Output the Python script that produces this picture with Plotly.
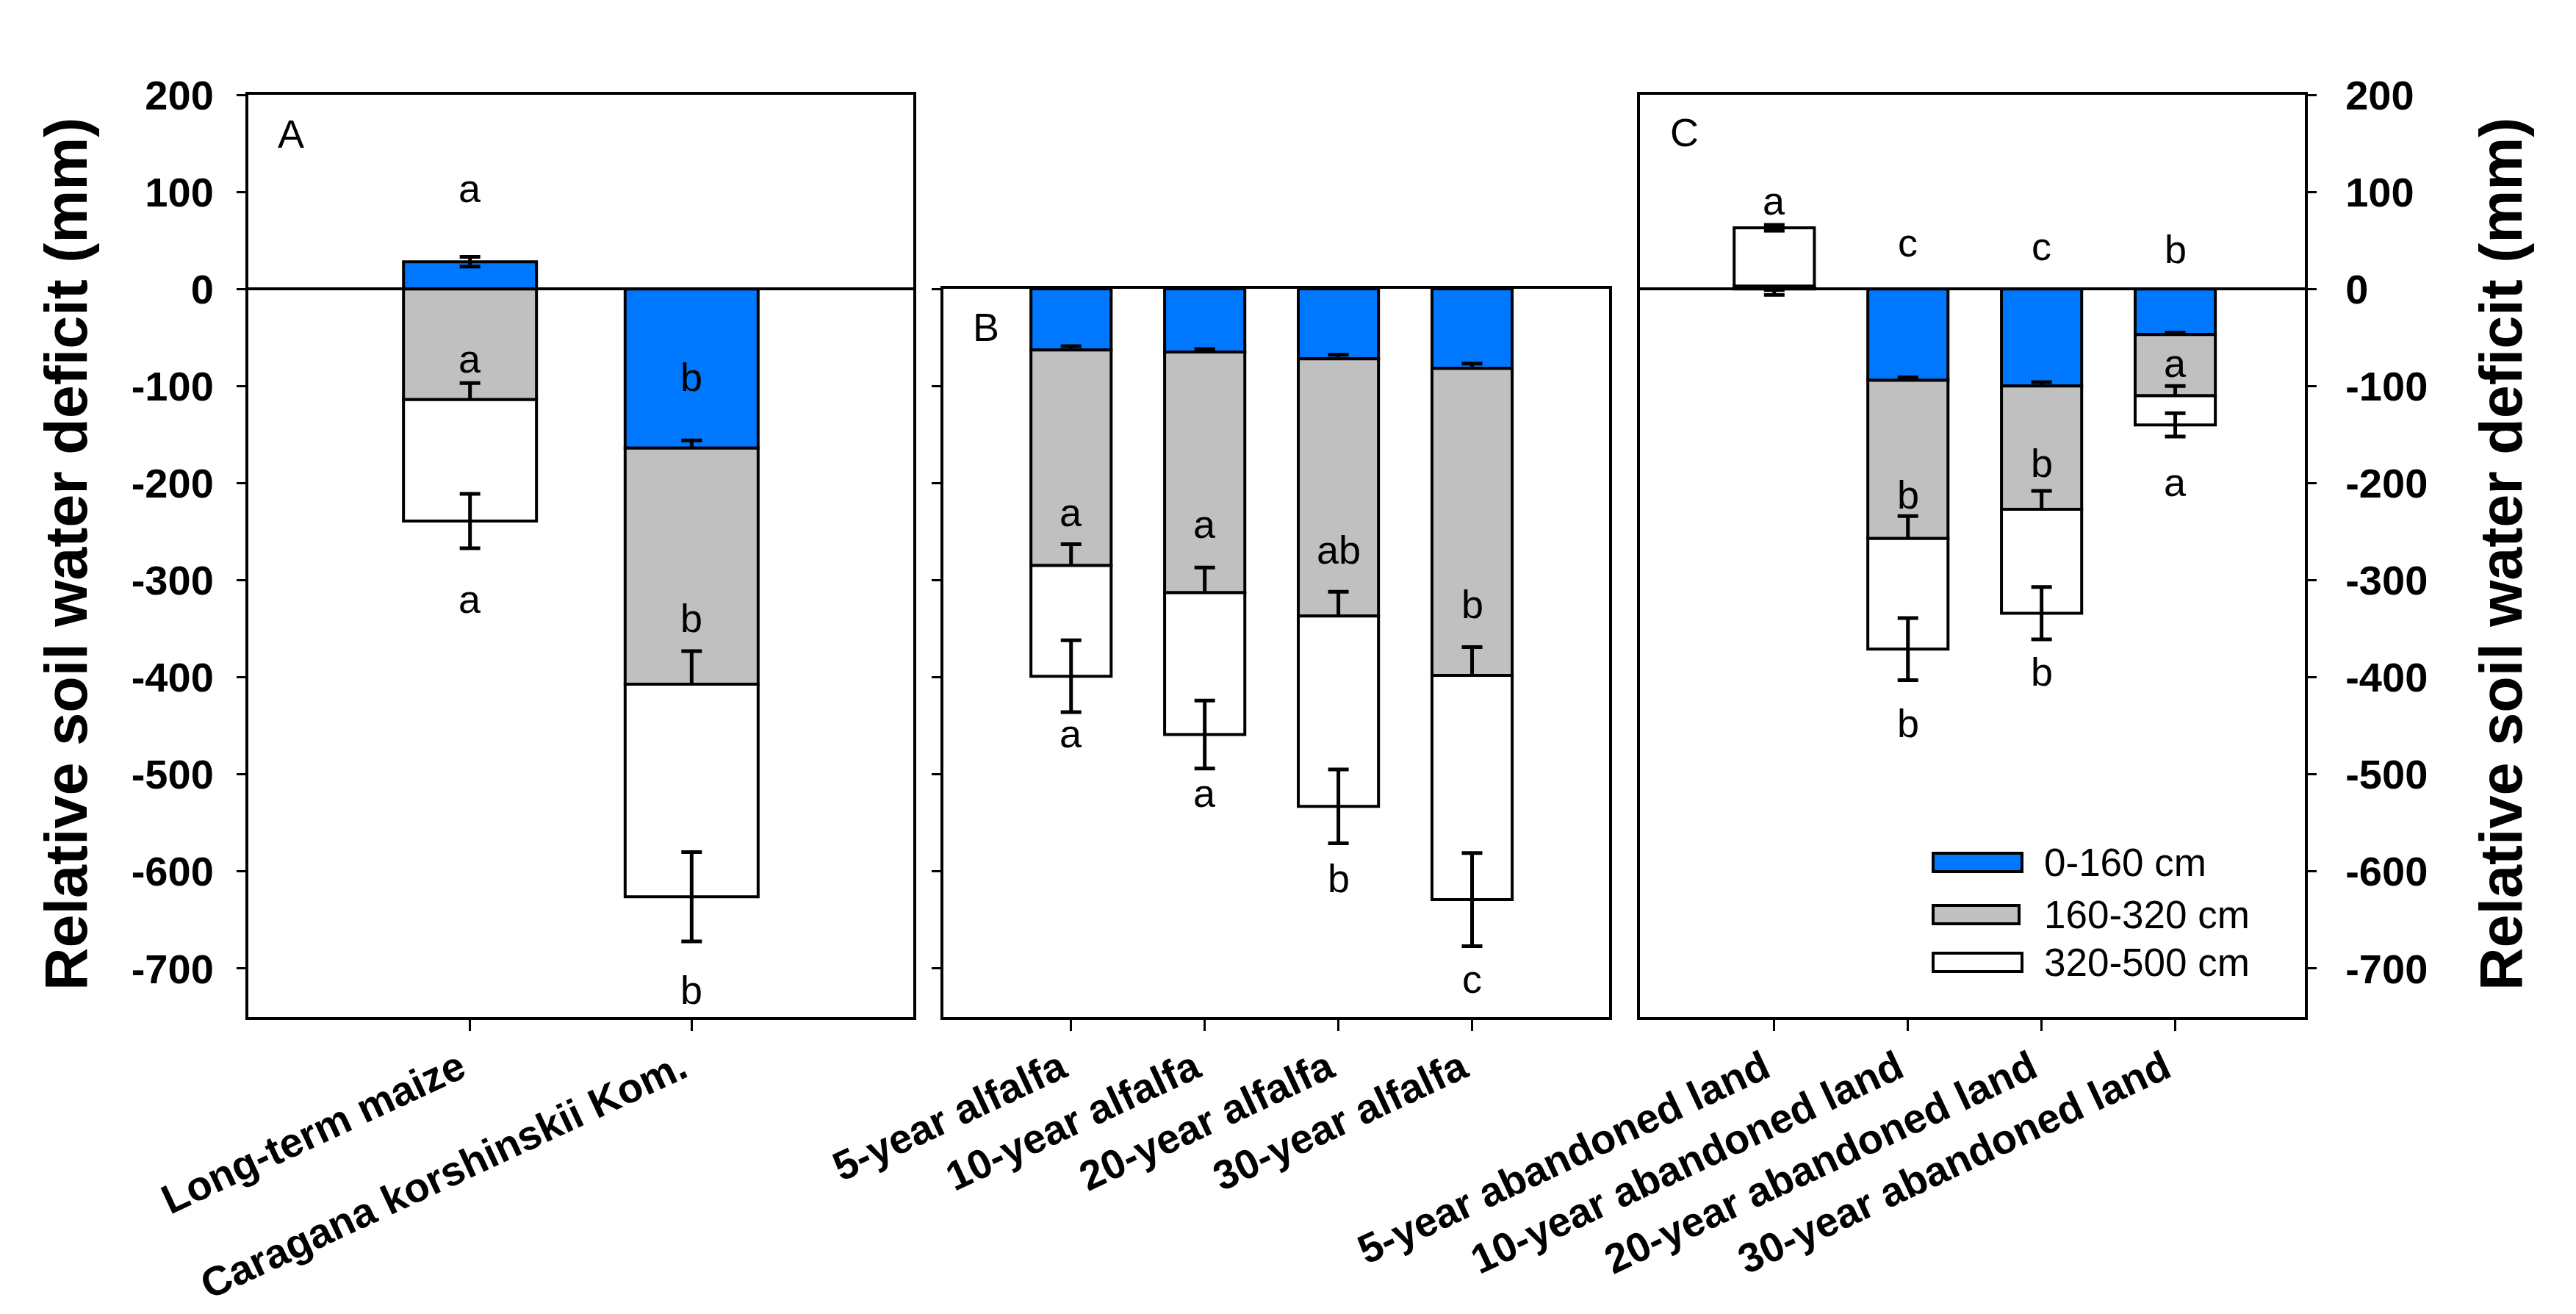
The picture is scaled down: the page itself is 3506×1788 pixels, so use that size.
import plotly.graph_objects as go

FONT = "Liberation Sans, Arial, sans-serif"
W, H = 3506, 1788

# ---------------- data ----------------
# Panel A
cat_A = ["Long-term maize", "Caragana korshinskii Kom."]
A_0_160 = [28, -164]
A_160_320 = [-114, -243]
A_320_500 = [-125, -219]
A_err_0_160 = [5, 8]
A_err_160_320 = [17, 34]
A_err_320_500 = [28, 46]
A_let_0_160 = ["a", "b"]
A_let_160_320 = ["a", "b"]
A_let_320_500 = ["a", "b"]
A_let_y_0_160 = [104, -91]
A_let_y_160_320 = [-72, -339]
A_let_y_320_500 = [-319, -722]

# Panel B
cat_B = ["5-year alfalfa", "10-year alfalfa", "20-year alfalfa", "30-year alfalfa"]
B_0_160 = [-63, -65, -72, -82]
B_160_320 = [-222, -248, -265, -316]
B_320_500 = [-114, -146, -196, -231]
B_err_0_160 = [4, 3, 4, 5]
B_err_160_320 = [22, 26, 25, 29]
B_err_320_500 = [37, 35, 38, 48]
B_let_0_160 = ["a", "ab", "b", "c"]
B_let_160_320 = ["a", "a", "ab", "b"]
B_let_320_500 = ["a", "a", "b", "c"]
B_let_y_0_160 = [36, 36, 34, 32]
B_let_y_160_320 = [-230, -242, -269, -325]
B_let_y_320_500 = [-458, -519, -607, -711]

# Panel C
cat_C = ["5-year abandoned land", "10-year abandoned land",
         "20-year abandoned land", "30-year abandoned land"]
C_0_160 = [1, -94, -100, -47]
C_160_320 = [2, -163, -127, -63]
C_320_500 = [60, -114, -107, -30]
C_err_0_160 = [2, 3, 4, 2]
C_err_160_320 = [9, 23, 19, 10]
C_err_320_500 = [3, 32, 27, 12]
C_let_0_160 = ["a", "c", "c", "b"]
C_let_160_320 = ["", "b", "b", "a"]
C_let_320_500 = ["", "b", "b", "a"]
C_let_y_0_160 = [91, 48, 44, 41]
C_let_y_160_320 = [None, -212, -179, -76]
C_let_y_320_500 = [None, -447, -394, -199]

series_names = ["0-160 cm", "160-320 cm", "320-500 cm"]
series_colors = ["#0077FF", "#C0C0C0", "#FFFFFF"]

y_ticks = [-700, -600, -500, -400, -300, -200, -100, 0, 100, 200]
y_ticktext = ["-700", "-600", "-500", "-400", "-300", "-200", "-100", "0", "100", "200"]

# ---------------- helpers ----------------
def px_x(p):
    return p / W


def px_y(p):
    return 1 - p / H


fig = go.Figure()

panels = [
    ("x", "y", cat_A, [A_0_160, A_160_320, A_320_500],
     [A_err_0_160, A_err_160_320, A_err_320_500],
     [A_let_0_160, A_let_160_320, A_let_320_500],
     [A_let_y_0_160, A_let_y_160_320, A_let_y_320_500]),
    ("x2", "y2", cat_B, [B_0_160, B_160_320, B_320_500],
     [B_err_0_160, B_err_160_320, B_err_320_500],
     [B_let_0_160, B_let_160_320, B_let_320_500],
     [B_let_y_0_160, B_let_y_160_320, B_let_y_320_500]),
    ("x3", "y3", cat_C, [C_0_160, C_160_320, C_320_500],
     [C_err_0_160, C_err_160_320, C_err_320_500],
     [C_let_0_160, C_let_160_320, C_let_320_500],
     [C_let_y_0_160, C_let_y_160_320, C_let_y_320_500]),
]

annotations = []
for xa, ya, cats, vals, errs, lets, lets_y in panels:
    for k in range(3):
        fig.add_trace(go.Bar(
            x=cats, y=vals[k], name=series_names[k], xaxis=xa, yaxis=ya,
            width=0.6, showlegend=False,
            marker=dict(color=series_colors[k], line=dict(color="black", width=4)),
            error_y=dict(type="data", array=errs[k], color="black",
                         thickness=5, width=14),
        ))
        for c, t, yy in zip(cats, lets[k], lets_y[k]):
            if t and yy is not None:
                annotations.append(dict(
                    x=c, y=yy, xref=xa, yref=ya, text=t, showarrow=False,
                    font=dict(family=FONT, size=54, color="black"),
                    xanchor="center", yanchor="middle"))

axis_line = dict(showline=True, linecolor="black", linewidth=4, mirror=True,
                 showgrid=False, zeroline=False)
ytickfont = dict(family=FONT, size=56, color="black", weight="bold")
xtickfont = dict(family=FONT, size=56, color="black", weight="bold")

dx = -6   # small global shift (px)
dy = -4
xdomA = [px_x(336 + dx), px_x(1241 + dx)]
xdomB = [px_x(1282 + dx), px_x(2188 + dx)]
xdomC = [px_x(2230 + dx), px_x(3135 + dx)]
ydomAC = [px_y(1380 + dy), px_y(125 + dy)]
ydomB = [px_y(1380 + dy), px_y(389 + dy)]

xcommon = dict(axis_line, type="category", ticks="outside", ticklen=15,
               tickwidth=3, tickcolor="black", tickangle=-25,
               tickfont=xtickfont, ticklabelstandoff=-4, ticklabelshift=-14,
               automargin=False)

fig.update_layout(
    width=W, height=H,
    margin=dict(l=0, r=0, t=0, b=0),
    paper_bgcolor="white", plot_bgcolor="white",
    barmode="relative", bargap=0.4,
    showlegend=False,
    font=dict(family=FONT, color="black"),
    xaxis=dict(xcommon, domain=xdomA, anchor="y", range=[-1, 2]),
    xaxis2=dict(xcommon, domain=xdomB, anchor="y2", range=[-0.955, 4.025]),
    xaxis3=dict(xcommon, domain=xdomC, anchor="y3", range=[-1.005, 3.97]),
    yaxis=dict(axis_line, domain=ydomAC, anchor="x", range=[-750, 200],
               tickvals=y_ticks, ticktext=y_ticktext, ticks="outside",
               ticklen=12, tickwidth=3, tickcolor="black", side="left",
               tickfont=ytickfont, zeroline=True, zerolinecolor="black",
               zerolinewidth=4, ticklabelstandoff=20, automargin=False),
    yaxis2=dict(axis_line, domain=ydomB, anchor="x2", range=[-750, 0],
                tickvals=y_ticks[:8], ticks="outside", ticklen=12,
                tickwidth=3, tickcolor="black", side="left",
                showticklabels=False, automargin=False),
    yaxis3=dict(axis_line, domain=ydomAC, anchor="x3", range=[-750, 200],
                tickvals=y_ticks, ticktext=y_ticktext, ticks="outside",
                ticklen=12, tickwidth=3, tickcolor="black", side="right",
                tickfont=ytickfont, zeroline=True, zerolinecolor="black",
                zerolinewidth=4, ticklabelstandoff=28, automargin=False),
)

# panel letters
for lab, (px, py) in zip(["A", "B", "C"], [(388, 174), (1334, 437), (2284, 172)]):
    annotations.append(dict(x=px_x(px), y=px_y(py), xref="paper", yref="paper",
                            text=lab, showarrow=False, xanchor="center",
                            yanchor="middle",
                            font=dict(family=FONT, size=54, color="black")))

# axis titles
title_text = "Relative soil water deficit (mm)"
for px in (82, 3396):
    annotations.append(dict(x=px_x(px), y=px_y(746), xref="paper", yref="paper",
                            text=title_text, textangle=-90, showarrow=False,
                            xanchor="center", yanchor="middle",
                            font=dict(family=FONT, size=81, color="black",
                                      weight="bold")))

# legend (drawn manually inside panel C)
legend_rows = [(1153, 1178, 2744), (1224, 1249, 2740), (1289, 1314, 2744)]
shapes = []
for (y0, y1, x1), name, col in zip(legend_rows, series_names, series_colors):
    shapes.append(dict(type="rect", xref="paper", yref="paper",
                       x0=px_x(2623), x1=px_x(x1), y0=px_y(y1), y1=px_y(y0),
                       fillcolor=col, line=dict(color="black", width=4)))
    annotations.append(dict(x=px_x(2772), y=px_y((y0 + y1) / 2), xref="paper",
                            yref="paper", text=name, showarrow=False,
                            xanchor="left", yanchor="middle",
                            font=dict(family=FONT, size=53, color="black")))

fig.update_layout(annotations=annotations, shapes=shapes)

fig.write_html("out.html")
